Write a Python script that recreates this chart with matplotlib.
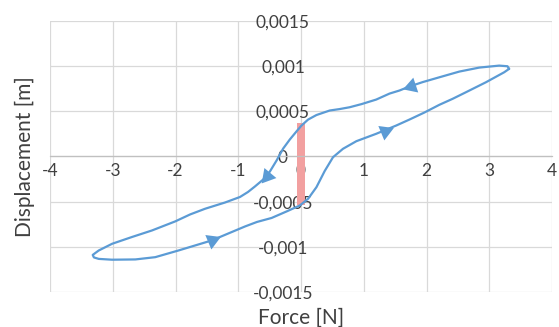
import numpy as np
import matplotlib
matplotlib.use("Agg")
import matplotlib.pyplot as plt

plt.rcParams['font.family'] = ['Lato', 'DejaVu Sans']

# Hysteresis loop (Force [N], Displacement [m])
force = [3.317, 3.290, 3.158, 2.840, 2.523, 2.205, 1.940, 1.728, 1.570, 1.411,
         1.199, 0.966, 0.775, 0.616, 0.458, 0.246, 0.113, 0.008, -0.067, -0.178,
         -0.284, -0.389, -0.496, -0.602, -0.734, -0.845, -0.972, -1.210, -1.528,
         -1.767, -2.005, -2.375, -2.693, -3.010, -3.223, -3.319, -3.300,
         -3.223, -3.010, -2.640, -2.323, -1.952, -1.422, -0.893, -0.702, -0.469,
         -0.230, -0.019, 0.113, 0.246, 0.378, 0.510, 0.669, 0.882, 1.199, 1.517,
         1.728, 1.967, 2.205, 2.416, 2.629, 2.947, 3.237, 3.317]
displacement = [0.000968, 0.000997, 0.001004, 0.000982, 0.000938, 0.000875, 0.000822,
                0.000773, 0.000729, 0.000695, 0.000629, 0.000579, 0.000544, 0.000524,
                0.000508, 0.000458, 0.000408, 0.000342, 0.000281, 0.000188, 0.000088,
                -0.000044, -0.000166, -0.000254, -0.000331, -0.000392, -0.000447,
                -0.000508, -0.000577, -0.000640, -0.000717, -0.000817, -0.000889,
                -0.000964, -0.001038, -0.001087, -0.001115,
                -0.001131, -0.001140, -0.001137, -0.001112, -0.001038, -0.000927,
                -0.000773, -0.000723, -0.000679, -0.000607, -0.000541, -0.000467,
                -0.000339, -0.000160, -0.000008, 0.000085, 0.000169, 0.000251,
                0.000342, 0.000408, 0.000486, 0.000571, 0.000637, 0.000710, 0.000820,
                0.000930, 0.000968]

# Direction arrows along the loop
arrow_force = [1.750, -0.543, -1.422, 1.331]
arrow_disp = [0.000784, -0.000210, -0.000925, 0.000287]

# Red highlighted band at zero force
band_force = [0.005]
band_bottom = [-0.00054]
band_top = [0.000368]

x_ticks = [-4, -3, -2, -1, 0, 1, 2, 3, 4]
x_tick_labels = ['-4', '-3', '-2', '-1', '0', '1', '2', '3', '4']
y_ticks = [-0.0015, -0.001, -0.0005, 0, 0.0005, 0.001, 0.0015]
y_tick_labels = ['-0,0015', '-0,001', '-0,0005', '0', '0,0005', '0,001', '0,0015']

W, H = 559, 327
fig = plt.figure(figsize=(W / 100, H / 100), dpi=100)
left, right, top, bottom = 50, 552, 20.7, 292.3
ax = fig.add_axes([left / W, 1 - bottom / H, (right - left) / W, (bottom - top) / H])
ax.set_xlim(-4, 4)
ax.set_ylim(-0.0015, 0.0015)

text_color = '#404040'
grid_color = '#d9d9d9'

ax.set_xticks(x_ticks)
ax.set_xticklabels(x_tick_labels)
ax.set_yticks(y_ticks)
ax.set_yticklabels(y_tick_labels)
ax.grid(True, color=grid_color, linewidth=0.9, zorder=0)
ax.set_axisbelow(True)

for s in ['top', 'right']:
    ax.spines[s].set_visible(False)
ax.spines['bottom'].set_position(('data', 0))
ax.spines['bottom'].set_color('#c0c0c0')
ax.spines['bottom'].set_linewidth(0.9)
ax.spines['left'].set_position(('data', 0))
ax.spines['left'].set_visible(False)

ax.tick_params(axis='x', length=0, pad=5, labelsize=12.5, colors=text_color)
ax.tick_params(axis='y', length=0, pad=13, labelsize=12.5, colors=text_color)
for lab in ax.get_yticklabels():
    lab.set_horizontalalignment('center')

# red band
ax.bar(band_force, np.array(band_top) - np.array(band_bottom), bottom=band_bottom,
       width=0.13, color='#F2A0A0', zorder=2, linewidth=0)

line_color = '#5B9BD5'
ax.plot(force, displacement, color=line_color, linewidth=1.6, zorder=3,
        solid_joinstyle='round', solid_capstyle='round')

# arrows: direction taken from the nearest loop segment, in display space
fig.canvas.draw()
pts = ax.transData.transform(np.column_stack([force, displacement]))
for fx, dy in zip(arrow_force, arrow_disp):
    p = ax.transData.transform((fx, dy))
    best, bi = 1e9, 0
    for i in range(len(pts) - 1):
        a, b = pts[i], pts[i + 1]
        ab = b - a
        t = np.clip(np.dot(p - a, ab) / np.dot(ab, ab), 0, 1)
        dist = np.linalg.norm(a + t * ab - p)
        if dist < best:
            best, bi = dist, i
    d = pts[bi + 1] - pts[bi]
    ang = np.degrees(np.arctan2(d[1], d[0]))
    ax.plot([fx], [dy], marker=(3, 0, ang - 90), markersize=13, color=line_color,
            markeredgewidth=0, zorder=4)

ax.set_xlabel('Force [N]', fontsize=15, color=text_color)
ax.xaxis.set_label_coords(0.5, -0.058)
ax.set_ylabel('Displacement [m]', fontsize=15, color=text_color)
ax.yaxis.set_label_coords(-0.03, 0.5)

fig.savefig('out.png', dpi=100)
